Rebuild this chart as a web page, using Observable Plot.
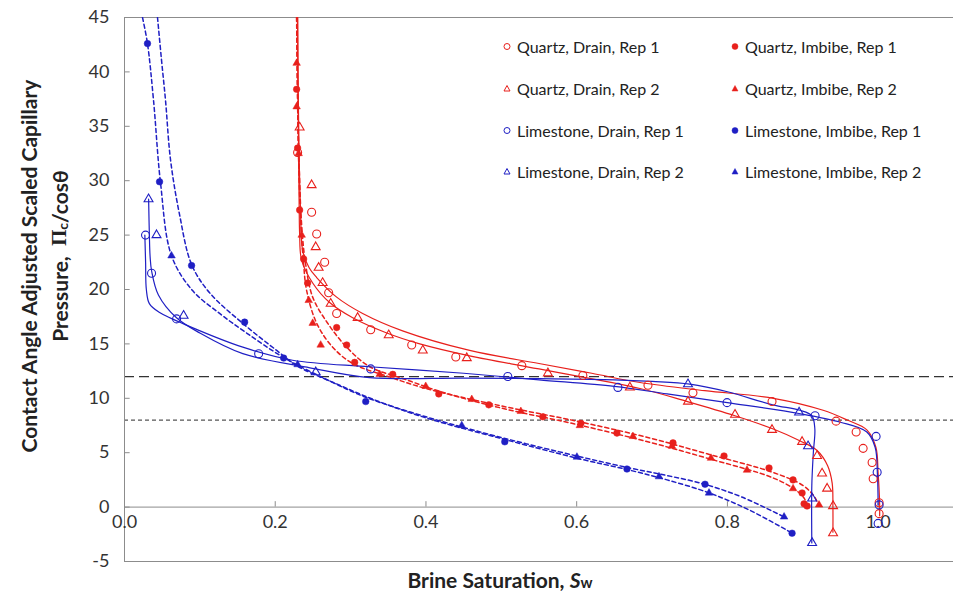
<!DOCTYPE html>
<html><head><meta charset="utf-8">
<script src="https://cdn.jsdelivr.net/npm/d3@7"></script>
<script src="https://cdn.jsdelivr.net/npm/@observablehq/plot@0.6"></script>
<style>
body{margin:0;background:#fff;font-family:Lato,"Open Sans",sans-serif;}
#wrap{position:relative;width:953px;height:600px;overflow:hidden;}
#legend{position:absolute;left:503px;top:26px;display:grid;grid-template-columns:228px 210px;grid-auto-rows:41.7px;align-items:center;font-size:16px;color:#222;}
#legend .it{display:flex;align-items:center;white-space:nowrap;}
#legend svg{margin-right:6px;}
</style></head><body><div id="wrap"><div id="chart"></div><div id="legend"></div></div>
<script>
// ---------- data (Sw, Pc/cos) ----------
const quartzDrain1 = [[0.2297,32.6],[0.2483,27.1],[0.2550,25.1],[0.2656,22.5],[0.2709,19.7],[0.2815,17.8],[0.3267,16.3],[0.3811,14.9],[0.4396,13.8],[0.5272,13.0],[0.6082,12.1],[0.6946,11.2],[0.7543,10.5],[0.8592,9.7],[0.9442,7.9],[0.9708,6.9],[0.9801,5.4],[0.9920,4.1],[0.9934,2.6],[1.0013,0.4],[1.0013,-0.6]];
const quartzDrain2 = [[0.2324,34.9],[0.2483,29.6],[0.2537,23.9],[0.2576,22.0],[0.2629,20.6],[0.2736,18.7],[0.3094,17.4],[0.3506,15.8],[0.3958,14.4],[0.4542,13.7],[0.5618,12.3],[0.6706,11.0],[0.7477,9.7],[0.8101,8.5],[0.8592,7.1],[0.8991,6.0],[0.9190,4.7],[0.9256,3.1],[0.9323,1.7],[0.9402,0.1],[0.9402,-2.4]];
const quartzImbibe1 = [[0.2284,38.4],[0.2297,33.0],[0.2324,27.3],[0.2377,22.8],[0.2430,20.6],[0.2815,16.5],[0.2948,14.9],[0.3054,13.3],[0.3559,12.2],[0.4170,10.4],[0.4834,9.4],[0.5551,8.3],[0.6056,7.7],[0.6534,6.8],[0.7278,5.9],[0.7955,4.7],[0.8552,3.6],[0.8871,2.5],[0.8991,1.3],[0.9017,0.3],[0.9057,0.1]];
const quartzImbibe2 = [[0.2284,40.8],[0.2284,36.8],[0.2311,32.5],[0.2351,25.0],[0.2444,19.0],[0.2497,16.9],[0.2603,14.9],[0.3386,12.2],[0.3997,11.1],[0.4608,9.9],[0.5259,8.8],[0.6042,7.5],[0.6746,6.5],[0.7264,5.6],[0.7782,4.5],[0.8260,3.4],[0.8871,1.7],[0.9216,0.2]];
const limestoneDrain1 = [[0.0279,25.0],[0.0359,21.5],[0.0691,17.3],[0.1780,14.1],[0.3267,12.7],[0.5086,12.0],[0.6547,11.0],[0.7995,9.6],[0.9163,8.4],[0.9973,6.5],[0.9987,3.2],[1.0013,0.2],[1.0000,-1.5]];
const limestoneDrain2 = [[0.0319,28.3],[0.0425,25.0],[0.0784,17.6],[0.2537,12.4],[0.7477,11.3],[0.8951,8.7],[0.9070,5.6],[0.9124,0.8],[0.9124,-3.3]];
const limestoneImbibe1 = [[0.0305,42.6],[0.0465,29.9],[0.0890,22.2],[0.1594,17.0],[0.2112,13.7],[0.3201,9.7],[0.5046,6.0],[0.6667,3.5],[0.7703,2.1],[0.8858,-2.4]];
const limestoneImbibe2 = [[0.0624,23.1],[0.2297,13.1],[0.4475,7.5],[0.6003,4.6],[0.7092,2.8],[0.7756,1.3],[0.8752,-0.9]];

// fitted curves
const quartzDrain1Fit = [[0.2297,45],[0.2305,38],[0.2318,32],[0.2335,27.5],[0.2364,23.6],[0.245,22],[0.255,21.1],[0.2815,19.3],[0.316,17.8],[0.369,16.2],[0.458,14.4],[0.55,13.2],[0.62,12.3],[0.684,11.45],[0.77,10.7],[0.861,10.0],[0.927,8.9],[0.959,8.0],[0.985,7.1],[0.997,5.5],[1.0,3.1],[1.002,0.3],[1.002,-0.8]];
const quartzDrain2Fit = [[0.2297,45],[0.2303,38],[0.231,32],[0.2318,27.5],[0.2324,25.1],[0.235,22.7],[0.2497,20.6],[0.2722,18.8],[0.3028,17.4],[0.348,16.0],[0.3918,15.0],[0.458,13.9],[0.55,12.7],[0.684,10.9],[0.747,9.7],[0.81,8.4],[0.86,7.2],[0.896,6.1],[0.919,5.2],[0.933,3.8],[0.939,2.2],[0.940,0],[0.940,-2.3]];
const quartzImbibe1Fit = [[0.2284,45],[0.2297,38],[0.2315,32],[0.235,26],[0.24,22.5],[0.2497,19.3],[0.2696,16.9],[0.2948,14.7],[0.3254,12.9],[0.37,11.8],[0.42,10.6],[0.5,9.1],[0.6,7.6],[0.7,5.9],[0.773,4.5],[0.86,2.7],[0.89,1.6],[0.902,0.8],[0.906,0.1]];
const quartzImbibe2Fit = [[0.2284,45],[0.2295,38],[0.231,32],[0.234,26],[0.2375,22.5],[0.2417,19.9],[0.255,16.9],[0.2762,14.7],[0.3028,13.2],[0.35,12.0],[0.4,10.9],[0.5,9.3],[0.6,7.9],[0.7,6.3],[0.773,4.9],[0.86,3.2],[0.9,2.0],[0.915,1.0],[0.921,0.2]];
const limestoneDrain1Fit = [[0.027,25],[0.028,22.5],[0.029,20],[0.033,18.7],[0.046,17.9],[0.09,16.5],[0.157,14.7],[0.223,13.5],[0.325,12.9],[0.45,12.3],[0.55,11.7],[0.65,11.1],[0.72,10.4],[0.8,9.6],[0.895,8.6],[0.95,7.8],[0.985,6.9],[0.996,5.5],[0.999,3.1],[1.0,0.2]];
const limestoneDrain2Fit = [[0.032,28.3],[0.033,25],[0.034,23],[0.036,21.7],[0.045,19.5],[0.069,17.4],[0.1,16],[0.157,14.1],[0.246,12.8],[0.325,11.9],[0.45,11.85],[0.55,11.8],[0.65,11.7],[0.7,11.55],[0.75,11.3],[0.8,10.6],[0.86,9.4],[0.896,8.9],[0.912,8.4],[0.916,7.2],[0.914,5],[0.912,2],[0.912,-3.3]];
const limestoneImbibe1Fit = [[0.0239,45],[0.0305,42.6],[0.0385,37.4],[0.0478,29.8],[0.0624,23.1],[0.0903,19.9],[0.1262,17.8],[0.162,16.0],[0.21,13.8],[0.272,11.6],[0.32,10.1],[0.4,8.3],[0.5,6.4],[0.6,4.7],[0.67,3.6],[0.72,2.9],[0.77,2.1],[0.82,0.9],[0.875,-0.9]];
const limestoneImbibe2Fit = [[0.0438,45],[0.0491,41.1],[0.0544,37.4],[0.0611,31.9],[0.073,26.9],[0.089,22.3],[0.1129,19.7],[0.1567,16.9],[0.2019,14.4],[0.2284,13.0],[0.2855,11.2],[0.33,9.9],[0.4,8.2],[0.5,6.3],[0.6,4.5],[0.67,3.4],[0.72,2.5],[0.776,1.3],[0.83,-0.3],[0.886,-2.4]];

const xTicks = [0.0, 0.2, 0.4, 0.6, 0.8, 1.0];
const yTicks = [-5, 0, 5, 10, 15, 20, 25, 30, 35, 40, 45];
const refLines = [12, 8];

const RED = "#e8201c", BLUE = "#1f1fc4";
const series = [
  {name:"Quartz, Drain, Rep 1", pts:quartzDrain1, fit:quartzDrain1Fit, color:RED, symbol:"circle", filled:false},
  {name:"Quartz, Imbibe, Rep 1", pts:quartzImbibe1, fit:quartzImbibe1Fit, color:RED, symbol:"circle", filled:true},
  {name:"Quartz, Drain, Rep 2", pts:quartzDrain2, fit:quartzDrain2Fit, color:RED, symbol:"triangle", filled:false},
  {name:"Quartz, Imbibe, Rep 2", pts:quartzImbibe2, fit:quartzImbibe2Fit, color:RED, symbol:"triangle", filled:true},
  {name:"Limestone, Drain, Rep 1", pts:limestoneDrain1, fit:limestoneDrain1Fit, color:BLUE, symbol:"circle", filled:false},
  {name:"Limestone, Imbibe, Rep 1", pts:limestoneImbibe1, fit:limestoneImbibe1Fit, color:BLUE, symbol:"circle", filled:true},
  {name:"Limestone, Drain, Rep 2", pts:limestoneDrain2, fit:limestoneDrain2Fit, color:BLUE, symbol:"triangle", filled:false},
  {name:"Limestone, Imbibe, Rep 2", pts:limestoneImbibe2, fit:limestoneImbibe2Fit, color:BLUE, symbol:"triangle", filled:true}
];

const AX = "#8c8c8c", LBL = "#333";
const marks = [
  Plot.ruleY(refLines.slice(0,1), {stroke:"#333", strokeWidth:1.2, strokeDasharray:"10,5"}),
  Plot.ruleY(refLines.slice(1), {stroke:"#555", strokeWidth:1.2, strokeDasharray:"4,3"}),
  Plot.ruleY([0], {stroke:AX}),
  Plot.ruleY([yTicks[0], yTicks[yTicks.length-1]], {stroke:AX}),
  Plot.ruleX([0], {stroke:AX}),
  Plot.ruleY(yTicks.slice(1,-1), {x1:0, x2:0.0075, stroke:AX}),
  Plot.ruleX(xTicks.slice(1), {y1:0, y2:0.5, stroke:AX}),
  Plot.text(yTicks, {x:0, y:d=>d, dx:-15, textAnchor:"end", text:d=>String(d), fontSize:18, fill:LBL}),
  Plot.text(xTicks, {x:d=>d, y:0, dy:15, text:d=>d.toFixed(1), fontSize:18, fill:LBL})
];
for (const s of series) {
  marks.push(Plot.line(s.fit, {x:d=>d[0], y:d=>d[1], stroke:s.color, strokeWidth:s.filled?1.5:1.2,
    strokeDasharray:s.filled?"4,3":null, curve:"catmull-rom", clip:true}));
}
for (const s of series) {
  const tri = s.symbol === "triangle";
  marks.push(Plot.dot(s.pts, {x:d=>d[0], y:d=>d[1], symbol:s.symbol,
    r: s.filled ? (tri ? 2.8 : 3.3) : (tri ? 3.3 : 4),
    fill:s.filled?s.color:"white", fillOpacity:s.filled?1:0, stroke:s.color, strokeWidth:s.filled?0.5:1.1}));
}

const plot = Plot.plot({
  width:953, height:600, marginLeft:124, marginTop:17, marginBottom:39, marginRight:0,
  x:{domain:[0,1.1], axis:null}, y:{domain:[-5,45], axis:null},
  style:{fontFamily:"Lato, 'Open Sans', sans-serif", background:"white"},
  marks
});
document.getElementById("chart").appendChild(plot);

// axis titles
const svg = d3.select(plot);
const tf = "Lato, 'Open Sans', sans-serif";
svg.append("text").attr("transform","translate(28,266) rotate(-90)").attr("text-anchor","middle")
  .attr("dominant-baseline","central").attr("font-family",tf).attr("font-weight","bold").attr("font-size",21).attr("fill","#222")
  .text("Contact Angle Adjusted Scaled Capillary");
const t2 = svg.append("text").attr("transform","translate(59,256) rotate(-90)").attr("text-anchor","middle")
  .attr("dominant-baseline","central").attr("font-family",tf).attr("font-weight","bold").attr("font-size",21).attr("fill","#222");
t2.append("tspan").text("Pressure,  ");
t2.append("tspan").attr("font-family","'Liberation Serif', serif").text("Π");
t2.append("tspan").attr("font-size",14).attr("baseline-shift","-3").text("c");
t2.append("tspan").text("/cosθ");
const xt = svg.append("text").attr("x",500).attr("y",579).attr("text-anchor","middle")
  .attr("dominant-baseline","central").attr("font-family",tf).attr("font-weight","bold").attr("font-size",21).attr("fill","#222");
xt.append("tspan").text("Brine Saturation, ");
xt.append("tspan").attr("font-style","italic").text("S");
xt.append("tspan").attr("font-size",15).attr("baseline-shift","-3").text("w");

// legend
const leg = document.getElementById("legend");
for (const s of series) {
  const it = document.createElement("div"); it.className = "it";
  const m = s.symbol === "circle"
    ? `<circle cx="4" cy="4.5" r="3" fill="${s.filled?s.color:"none"}" stroke="${s.color}" stroke-width="${s.filled?0.5:1}"/>`
    : `<path d="M4,1.5 L7,7 L1,7 Z" fill="${s.filled?s.color:"none"}" stroke="${s.color}" stroke-width="${s.filled?0.5:1}"/>`;
  it.innerHTML = `<svg width="8" height="9">${m}</svg><span>${s.name}</span>`;
  leg.appendChild(it);
}
</script></body></html>
